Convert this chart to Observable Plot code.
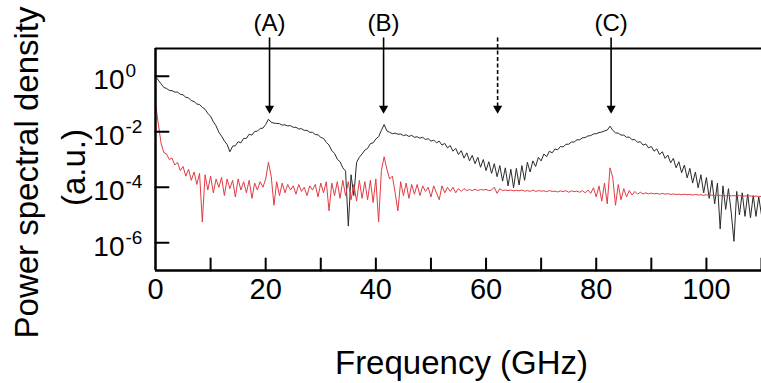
<!DOCTYPE html>
<html>
<head>
<meta charset="utf-8">
<script src="https://cdn.jsdelivr.net/npm/d3@7"></script>
<script src="https://cdn.jsdelivr.net/npm/@observablehq/plot@0.6"></script>
<style>
  body { margin: 0; background: #fff; }
  #chart svg { display: block; }
</style>
</head>
<body>
<div id="chart"></div>
<script>
// Frequency sampling (GHz) of both spectra
const freqStep = 0.5;

// Black spectrum: log10 of power spectral density (a.u.), one value per 0.5 GHz from 0 to 110 GHz
const blackLog10 = [
  0.0,-0.14,-0.27,-0.4,-0.44,-0.51,-0.52,-0.57,-0.57,-0.65,-0.67,-0.76,-0.78,-0.88,-0.91,-1.0,-1.02,-1.12,-1.19,-1.34,
  -1.44,-1.64,-1.79,-2.02,-2.16,-2.33,-2.46,-2.72,-2.52,-2.5,-2.36,-2.4,-2.24,-2.24,-2.09,-2.12,-1.99,-1.98,-1.88,-1.87,
  -1.74,-1.55,-1.66,-1.69,-1.7,-1.71,-1.76,-1.75,-1.79,-1.78,-1.84,-1.84,-1.9,-1.89,-1.95,-1.95,-2.02,-2.02,-2.1,-2.11,
  -2.2,-2.24,-2.38,-2.48,-2.68,-2.78,-2.99,-3.08,-3.3,-3.42,-5.4,-3.55,-4.3,-3.1,-2.92,-2.8,-2.66,-2.6,-2.43,-2.4,
  -2.26,-2.18,-1.95,-1.74,-1.97,-2.02,-2.07,-2.05,-2.09,-2.08,-2.14,-2.11,-2.17,-2.13,-2.2,-2.18,-2.23,-2.2,-2.28,-2.25,
  -2.34,-2.3,-2.4,-2.34,-2.48,-2.42,-2.58,-2.5,-2.7,-2.6,-2.82,-2.68,-2.95,-2.76,-3.05,-2.85,-3.15,-2.92,-3.28,-3.0,
  -3.4,-3.08,-3.5,-3.15,-3.62,-3.22,-3.78,-3.3,-3.95,-3.35,-4.02,-3.32,-3.92,-3.22,-3.75,-3.1,-3.45,-3.05,-3.25,-2.92,
  -3.05,-2.8,-2.9,-2.7,-2.76,-2.62,-2.65,-2.53,-2.55,-2.45,-2.45,-2.37,-2.37,-2.29,-2.29,-2.22,-2.21,-2.15,-2.14,-2.08,
  -2.07,-2.03,-2.01,-1.97,-1.94,-1.8,-1.95,-2.04,-2.05,-2.12,-2.12,-2.2,-2.19,-2.29,-2.28,-2.38,-2.36,-2.48,-2.44,-2.58,
  -2.53,-2.7,-2.62,-2.82,-2.72,-2.96,-2.84,-3.12,-2.96,-3.3,-3.08,-3.48,-3.2,-3.66,-3.32,-3.85,-3.45,-4.02,-3.55,-4.2,
  -3.65,-4.4,-3.75,-4.6,-3.85,-5.5,-3.95,-4.8,-4.05,-4.9,-5.95,-4.15,-5.0,-4.2,-5.05,-4.25,-5.1,-4.3,-5.05,-4.35,
  -5.0
];

// Red spectrum: log10 of power spectral density (a.u.), one value per 0.5 GHz from 0 to 110 GHz
const redLog10 = [
  -1.0,-1.7,-2.4,-2.75,-2.8,-3.0,-2.95,-3.2,-3.1,-3.4,-3.25,-3.6,-3.35,-3.75,-3.45,-3.9,-3.5,-5.25,-3.55,-4.1,
  -3.6,-4.2,-3.7,-4.0,-3.65,-4.3,-3.7,-4.05,-3.75,-4.35,-3.7,-4.1,-3.8,-4.2,-3.75,-4.4,-3.85,-4.1,-3.8,-4.0,
  -3.7,-3.1,-3.6,-4.65,-3.8,-4.3,-3.85,-4.2,-3.9,-4.1,-3.95,-4.25,-3.9,-4.15,-4.0,-4.3,-3.95,-4.1,-3.9,-4.35,
  -3.85,-4.2,-3.8,-4.85,-3.85,-4.3,-3.8,-4.4,-3.75,-4.3,-3.8,-4.45,-3.9,-4.5,-3.75,-4.4,-3.8,-4.45,-3.75,-4.55,
  -3.7,-5.25,-3.4,-2.9,-3.35,-3.7,-3.6,-4.2,-4.85,-3.8,-4.3,-3.85,-4.4,-3.9,-4.25,-3.9,-4.3,-3.95,-4.15,-4.0,
  -4.35,-3.95,-4.2,-4.45,-3.95,-4.2,-4.0,-4.15,-4.0,-4.2,-4.05,-4.15,-4.05,-4.12,-4.08,-4.12,-4.07,-4.12,-4.08,-4.1,
  -4.08,-4.12,-4.1,-4.0,-4.22,-4.05,-4.12,-4.1,-4.12,-4.1,-4.13,-4.11,-4.13,-4.1,-4.14,-4.12,-4.15,-4.1,-4.15,-4.12,
  -4.14,-4.13,-4.16,-4.12,-4.15,-4.14,-4.17,-4.13,-4.16,-4.12,-4.18,-4.13,-4.16,-4.14,-4.18,-4.12,-4.2,-4.1,-4.22,-4.02,
  -4.35,-3.95,-4.5,-3.85,-4.6,-3.3,-3.65,-4.65,-3.9,-4.45,-4.05,-4.35,-4.12,-4.28,-4.15,-4.25,-4.18,-4.24,-4.2,-4.24,
  -4.21,-4.24,-4.22,-4.25,-4.22,-4.25,-4.23,-4.26,-4.24,-4.26,-4.25,-4.27,-4.25,-4.27,-4.26,-4.28,-4.26,-4.28,-4.27,-4.29,
  -4.27,-4.3,-4.28,-4.3,-4.28,-4.31,-4.29,-4.31,-4.3,-4.31,-4.3,-4.32,-4.3,-4.32,-4.31,-4.32,-4.31,-4.33,-4.32,-4.33,
  -4.33
];

// Axis ticks
const xTickLabels = [0, 20, 40, 60, 80, 100];
const xTickMarks = [10, 20, 30, 40, 50, 60, 70, 80, 90, 100, 110];
const yTickExponents = [0, -2, -4, -6];

// Arrow annotations
const arrowFreq = [20.7, 41.4, 62.1, 82.7];
const arrowLabel = ["(A)", "(B)", "", "(C)"];
const arrowDashed = [false, false, true, false];
const arrowTop = 25;      // PSD value where the arrow shafts start (above the frame)
const arrowHead = 0.069;  // PSD value where the arrow heads sit

const xDomain = [0, 110];
const yDomain = [1e-7, 1e1];

const black = blackLog10.map((v, i) => ({f: i * freqStep, psd: Math.pow(10, v)}));
const red = redLog10.map((v, i) => ({f: i * freqStep, psd: Math.pow(10, v)}));
const arrows = arrowFreq.map((f, i) => ({f, label: arrowLabel[i], dashed: arrowDashed[i]}));

const tickShape = {draw(context, l) { context.moveTo(0, 0); context.lineTo(0, -l); }};

const font = "'Liberation Sans', Arial, Helvetica, sans-serif";

const chart = Plot.plot({
  width: 761,
  height: 383,
  marginTop: 48,
  marginBottom: 113,
  marginLeft: 155,
  marginRight: 0,
  x: {domain: xDomain, axis: null},
  y: {type: "log", domain: yDomain, axis: null},
  style: {fontFamily: font, background: "#fff", color: "#000", overflow: "visible"},
  marks: [
    Plot.lineY(black, {x: "f", y: "psd", stroke: "#2a2a2a", strokeWidth: 1}),
    Plot.lineY(red, {x: "f", y: "psd", stroke: "#e23b45", strokeWidth: 1}),
    // frame
    Plot.ruleY([yDomain[1]], {stroke: "#000", strokeWidth: 2}),
    Plot.ruleY([yDomain[0]], {stroke: "#000", strokeWidth: 2.5}),
    Plot.ruleX([xDomain[0]], {stroke: "#000", strokeWidth: 2.5}),
    // inward ticks
    Plot.vector(xTickMarks, {x: d => d, frameAnchor: "bottom", anchor: "start", length: 12, rotate: 0, shape: tickShape, stroke: "#000", strokeWidth: 2}),
    Plot.vector(yTickExponents, {y: d => Math.pow(10, d), frameAnchor: "left", anchor: "start", length: 13, rotate: 90, shape: tickShape, stroke: "#000", strokeWidth: 2}),
    // tick labels
    Plot.text(xTickLabels, {x: d => d, text: d => String(d), frameAnchor: "bottom", lineAnchor: "top", dy: 8, fontSize: 29, fill: "#000"}),
    Plot.text(yTickExponents, {y: d => Math.pow(10, d), text: () => "10", frameAnchor: "left", textAnchor: "end", dx: -31, dy: 4, fontSize: 28, fill: "#000"}),
    Plot.text(yTickExponents, {y: d => Math.pow(10, d), text: d => d === 0 ? "0" : "-" + (-d), frameAnchor: "left", textAnchor: "start", dx: -30, dy: -5, fontSize: 19, fill: "#000"}),
    // axis titles
    Plot.text(["Frequency (GHz)"], {x: () => (xDomain[0] + xDomain[1]) / 2, y: () => yDomain[0], text: d => d, dx: 3, dy: 93, fontSize: 33, fill: "#000"}),
    Plot.text(["Power spectral density"], {x: () => xDomain[0], y: () => 1e-3, text: d => d, rotate: -90, dx: -128, dy: 13, fontSize: 33, fill: "#000"}),
    Plot.text(["(a.u.)"], {x: () => xDomain[0], y: () => 1e-3, text: d => d, rotate: -90, dx: -81, dy: 8, fontSize: 33, fill: "#000"}),
    // arrows
    Plot.link(arrows.filter(d => !d.dashed), {x1: "f", x2: "f", y1: () => arrowTop, y2: () => arrowHead, stroke: "#000", strokeWidth: 1.6}),
    Plot.link(arrows.filter(d => d.dashed), {x1: "f", x2: "f", y1: () => arrowTop, y2: () => arrowHead, stroke: "#000", strokeWidth: 1.6, strokeDasharray: "4,2.5"}),
    Plot.dot(arrows, {x: "f", y: () => arrowHead, symbol: "triangle", r: 3.4, rotate: 180, fill: "#000", stroke: "none"}),
    Plot.text(arrows.filter(d => d.label), {x: "f", y: () => yDomain[1], text: "label", dy: -25, fontSize: 24, fill: "#000"})
  ]
});

document.getElementById("chart").append(chart);
</script>
</body>
</html>
